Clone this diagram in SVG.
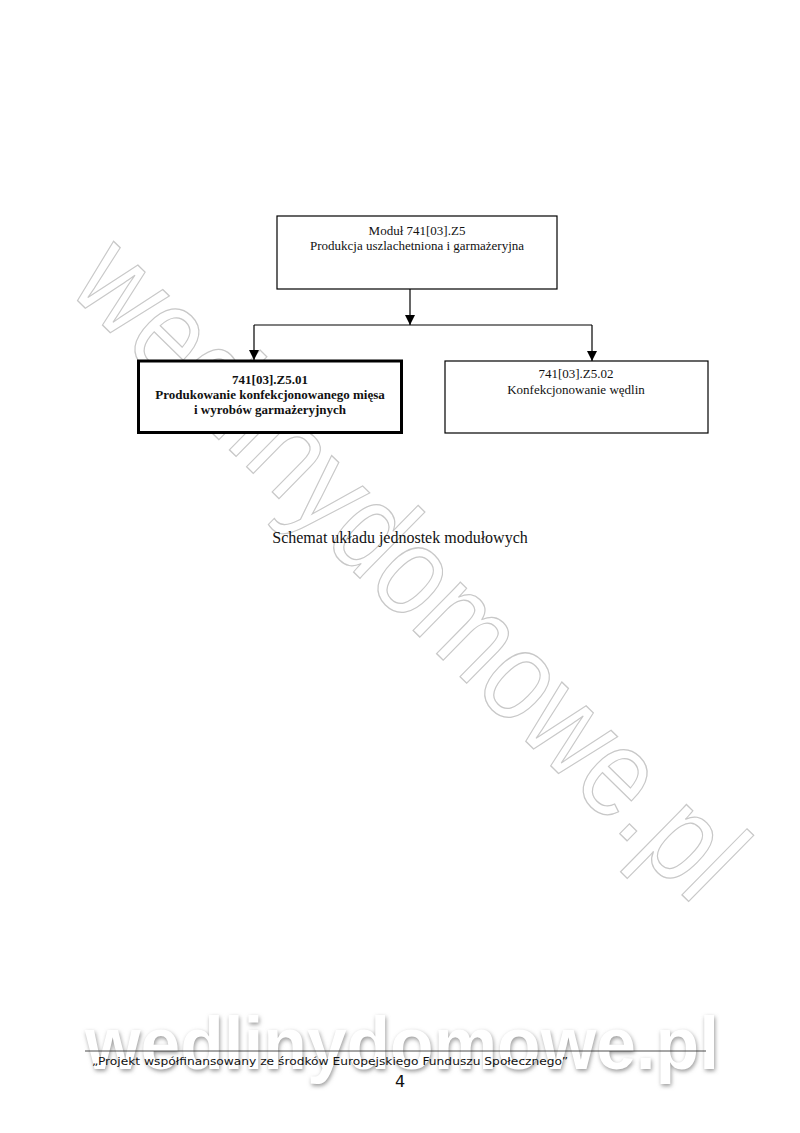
<svg xmlns="http://www.w3.org/2000/svg" width="800" height="1133" viewBox="0 0 800 1133">
<style>
.box{fill:#fff;stroke:#000;stroke-width:1.2}
.bold{fill:#fff;stroke:#000;stroke-width:3}
.t{font-family:"Liberation Serif",serif;font-size:13px;fill:#111;text-anchor:middle}
.tb{font-family:"Liberation Serif",serif;font-size:13px;font-weight:bold;fill:#111;text-anchor:middle}
.conn{fill:none;stroke:#000;stroke-width:1.2}
.wm{font-family:"Liberation Sans",sans-serif;font-size:128px;fill:none;stroke:#c8c8c8;stroke-width:1.3}
</style>
<defs>
<marker id="arr" viewBox="0 0 10 10" refX="10" refY="5" markerWidth="10" markerHeight="10" markerUnits="userSpaceOnUse" orient="auto">
<path d="M0,0 L10,5 L0,10 Z" fill="#000"/>
</marker>
<filter id="sh" x="-5%" y="-20%" width="110%" height="140%"><feGaussianBlur stdDeviation="2"/></filter>
</defs>
<rect width="800" height="1133" fill="#fff"/>
<text class="wm" transform="translate(380,598) rotate(44.5)" text-anchor="middle" textLength="880" lengthAdjust="spacingAndGlyphs">wedlinydomowe.pl</text>
<g id="connectors">
<path class="conn" d="M410,289 V325" marker-end="url(#arr)"/>
<path class="conn" d="M254,325 H592"/>
<path class="conn" d="M254,325 V360" marker-end="url(#arr)"/>
<path class="conn" d="M592,325 V361" marker-end="url(#arr)"/>
</g>
<g id="node-main">
<rect class="box" x="277" y="216" width="280" height="73"/>
<text class="t" x="417" y="235">Moduł 741[03].Z5</text>
<text class="t" x="417" y="250">Produkcja uszlachetniona i garmażeryjna</text>
</g>
<g id="node-z501">
<rect class="bold" x="138.5" y="361" width="263" height="71.5"/>
<text class="tb" x="270" y="384">741[03].Z5.01</text>
<text class="tb" x="270" y="399">Produkowanie konfekcjonowanego mięsa</text>
<text class="tb" x="270" y="414">i wyrobów garmażeryjnych</text>
</g>
<g id="node-z502">
<rect class="box" x="445" y="361" width="263" height="72"/>
<text class="t" x="576" y="378">741[03].Z5.02</text>
<text class="t" x="576" y="394">Konfekcjonowanie wędlin</text>
</g>
<text x="400" y="543" font-family="Liberation Serif,serif" font-size="16" fill="#111" text-anchor="middle">Schemat układu jednostek modułowych</text>
<g id="footer-watermark">
<text x="86" y="1071" font-family="Liberation Sans,sans-serif" font-weight="bold" font-size="74" fill="#9a9a9a" filter="url(#sh)" textLength="634" lengthAdjust="spacingAndGlyphs">wedlinydomowe.pl</text>
<text x="85" y="1069" font-family="Liberation Sans,sans-serif" font-weight="bold" font-size="74" fill="#fff" textLength="634" lengthAdjust="spacingAndGlyphs">wedlinydomowe.pl</text>
</g>
<line x1="85" y1="1051" x2="706" y2="1051" stroke="#222" stroke-width="0.8"/>
<text x="92" y="1065" font-family="DejaVu Sans,sans-serif" font-size="11" fill="#111" textLength="476" lengthAdjust="spacingAndGlyphs">„Projekt współfinansowany ze środków Europejskiego Funduszu Społecznego”</text>
<text x="400" y="1087" font-family="DejaVu Sans,sans-serif" font-size="16" fill="#111" text-anchor="middle">4</text>
</svg>
